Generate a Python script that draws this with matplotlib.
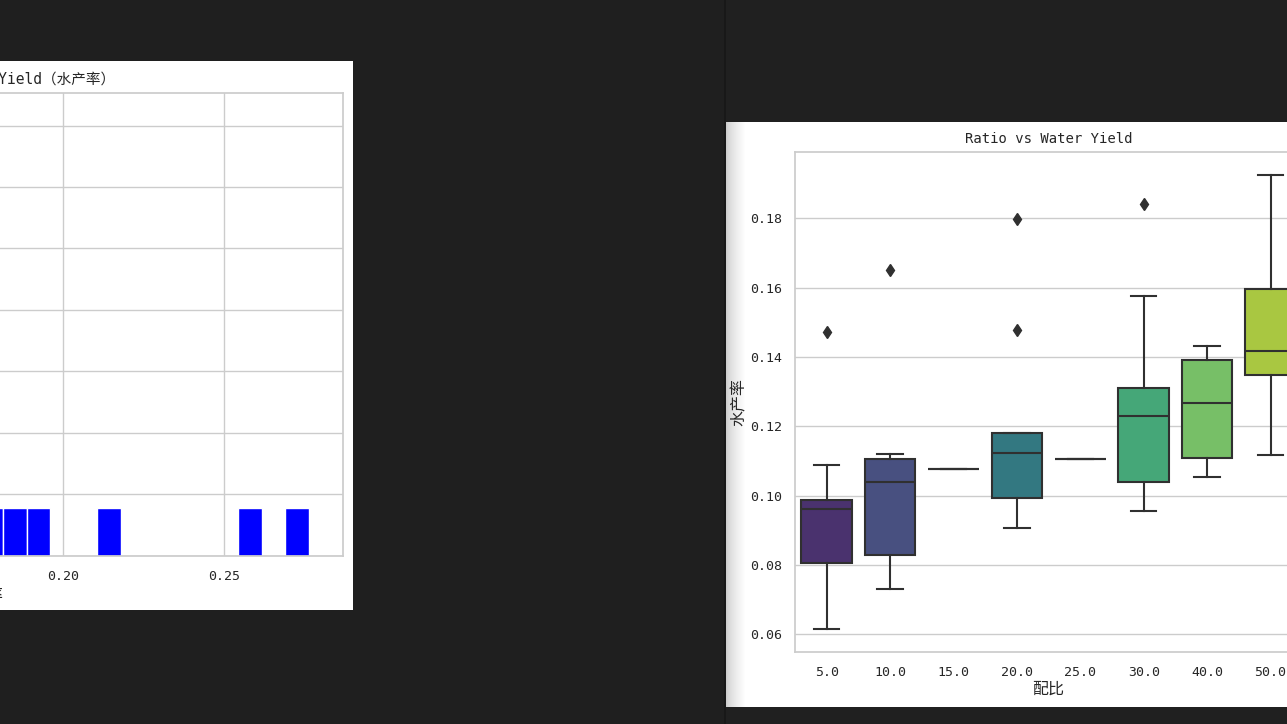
import colorsys
import numpy as np
import matplotlib
matplotlib.use("Agg")
import matplotlib.pyplot as plt
from matplotlib.patches import Rectangle
from matplotlib.ticker import MultipleLocator

# ---------------- data ----------------
# left panel: histogram (density) of water yield, visible bins only
hist_bin_left = [0.1742, 0.1815, 0.1888, 0.2107, 0.2545, 0.2691]
hist_density = [3.9, 3.9, 3.9, 3.9, 3.9, 3.9]
hist_bin_width = 0.0073

# right panel: box plot of water yield (水产率) by ratio (配比)
ratio_labels = ["5.0", "10.0", "15.0", "20.0", "25.0", "30.0", "40.0", "50.0"]
yield_whislo = [0.0615, 0.0731, 0.1077, 0.0908, 0.1106, 0.0957, 0.1055, 0.1118]
yield_q1 = [0.0807, 0.0828, 0.1077, 0.0993, 0.1106, 0.1040, 0.1109, 0.1349]
yield_median = [0.0961, 0.1040, 0.1077, 0.1124, 0.1106, 0.1229, 0.1268, 0.1418]
yield_q3 = [0.0987, 0.1107, 0.1077, 0.1182, 0.1106, 0.1311, 0.1391, 0.1597]
yield_whishi = [0.1088, 0.1121, 0.1077, 0.1182, 0.1106, 0.1576, 0.1433, 0.1925]
yield_fliers = [[0.1473], [0.1651], [], [0.1797, 0.1479], [], [0.1840], [], []]

# ---------------- style ----------------
plt.rcParams["font.family"] = ["DejaVu Sans Mono", "Noto Sans CJK SC"]
TXT = "#262626"
GRID = "#cccccc"

W, H = 1287, 724
fig = plt.figure(figsize=(W / 100, H / 100), dpi=100, facecolor="#1f1f1f")


def px(x0, y0, x1, y1):
    return [x0 / W, 1 - y1 / H, (x1 - x0) / W, (y1 - y0) / H]


def add_rect(x0, y0, x1, y1, color, z=-5):
    l, b, w, h = px(x0, y0, x1, y1)
    fig.add_artist(Rectangle((l, b), w, h, transform=fig.transFigure,
                             facecolor=color, edgecolor="none", zorder=z))


# screen background details
add_rect(726, 0, W, H, "#202020", z=-9)
add_rect(724, 0, 726, H, "#181818", z=-8)
# windows
add_rect(0, 61, 353, 610, "white")
add_rect(726, 122, W, 707, "white")
# soft shadow on the right window's left edge
for i in range(20):
    g = 0.80 + 0.20 * (i / 19) ** 0.7
    add_rect(726 + i, 122, 727 + i, 707, (g, g, g), z=-4)


def style_axes(ax):
    ax.set_facecolor("white")
    for s in ax.spines.values():
        s.set_color(GRID)
        s.set_linewidth(1.25)
    ax.grid(True, color=GRID, linewidth=1)
    ax.set_axisbelow(True)
    ax.tick_params(length=0, labelsize=9.5, labelcolor=TXT)
    ax.tick_params(axis="x", pad=10.5)
    ax.tick_params(axis="y", pad=9)


# ---------------- left panel: histogram ----------------
ax1 = fig.add_axes(px(-385, 92.5, 343, 555.5))
style_axes(ax1)
ax1.bar(hist_bin_left, hist_density, width=hist_bin_width, align="edge",
        color="blue", edgecolor="white", linewidth=1)
ax1.set_xlim(0.0609, 0.28696)
ax1.set_ylim(0, 37.7)
ax1.xaxis.set_major_locator(MultipleLocator(0.05))
ax1.yaxis.set_major_locator(MultipleLocator(5))
ax1.set_title("Histogram of Water Yield（水产率）", fontsize=10.5, color=TXT,
              x=0.493)
ax1.set_xlabel("水产率", fontsize=11.5, color=TXT)
ax1.set_ylabel("Density", fontsize=11.5, color=TXT)

# ---------------- right panel: box plot ----------------
cmap = matplotlib.colormaps["viridis"]
raw = cmap(np.linspace(0, 1, len(ratio_labels) + 2)[1:-1])[:, :3]
pal = []
for r, g, b in raw:
    h, l, s = colorsys.rgb_to_hls(r, g, b)
    pal.append(colorsys.hls_to_rgb(h, l, s * 0.75))
lum = min(colorsys.rgb_to_hls(*c)[1] for c in pal) * 0.6
gray = (lum, lum, lum)

stats = []
for i, lab in enumerate(ratio_labels):
    stats.append(dict(label=lab, whislo=yield_whislo[i], q1=yield_q1[i],
                      med=yield_median[i], q3=yield_q3[i],
                      whishi=yield_whishi[i], fliers=yield_fliers[i]))

ax2 = fig.add_axes(px(795, 151.7, 1302.2, 651.7))
style_axes(ax2)
ax2.xaxis.grid(False)
bp = ax2.bxp(stats, positions=list(range(len(stats))), widths=0.8,
             patch_artist=True, capwidths=0.4,
             boxprops=dict(edgecolor=gray, linewidth=1.5),
             medianprops=dict(color=gray, linewidth=1.5),
             whiskerprops=dict(color=gray, linewidth=1.5),
             capprops=dict(color=gray, linewidth=1.5),
             flierprops=dict(marker="d", markerfacecolor=gray,
                             markeredgecolor=gray, markersize=6,
                             linestyle="none"))
for patch, c in zip(bp["boxes"], pal):
    patch.set_facecolor(c)
ax2.set_xticks(list(range(len(ratio_labels))))
ax2.set_xticklabels(ratio_labels)
ax2.set_xlim(-0.5, len(ratio_labels) - 0.5)
ax2.set_ylim(0.05498, 0.19921)
ax2.set_title("Ratio vs Water Yield", fontsize=10, color=TXT)
ax2.set_xlabel("配比", fontsize=11.5, color=TXT)
ax2.set_ylabel("水产率", fontsize=11.5, color=TXT)
ax2.yaxis.set_label_coords(-0.0946, 0.5)
ax2.xaxis.set_label_coords(0.5, -0.060)

fig.savefig("out.png", dpi=100, facecolor=fig.get_facecolor())
